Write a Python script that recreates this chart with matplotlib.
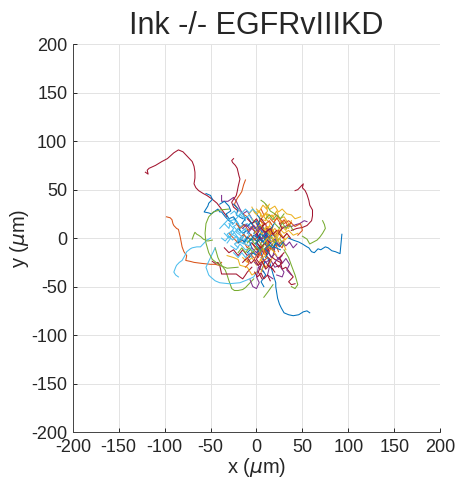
import matplotlib
matplotlib.use('Agg')
import matplotlib.pyplot as plt

# --- track data (x, y in micrometres), grouped by MATLAB default colour ---
blue_tracks = [
    [(93, 4), (91, -16), (86, -14), (82, -13), (78, -10), (75, -9), (70, -12), (67, -11), (63, -15),
     (60, -14), (57, -10), (55, -9), (50, -6), (46, -4), (40, -2), (35, 0)],
    [(58, -77), (55, -75), (51, -76), (46, -79), (40, -80), (35, -79), (30, -77), (27, -72), (25, -68),
     (23, -62), (22, -56), (21, -50), (21, -46), (18, -37), (15, -27), (12, -20)],
    [(-55, 46), (-50, 44), (-48, 40), (-52, 36), (-53, 33), (-57, 27), (-52, 26), (-49, 25), (-45, 28),
     (-42, 30), (-40, 27), (-38, 27), (-34, 22), (-30, 18), (-25, 15)],
    [(-20, 10), (-15, 5), (-10, 8), (-5, 2), (0, -3), (4, 2), (8, -5), (12, -2), (10, 5), (15, 8), (20, 3), (24, -4)],
    [(-10, -15), (-5, -10), (-8, -3), (-2, 0), (3, -8), (6, -18), (9, -25), (6, -32), (10, -38), (5, -45), (8, -50)],
    [(-25, 35), (-20, 30), (-22, 24), (-15, 20), (-10, 22), (-5, 15), (0, 18), (2, 10), (-3, 5), (5, 0)],
    [(-40, 35), (-35, 38), (-30, 33), (-28, 28), (-33, 25), (-30, 20), (-25, 22), (-20, 15), (-18, 8)],
    [(0, 25), (4, 20), (2, 14), (8, 10), (6, 3), (12, -1), (18, 4), (22, -2), (19, -9), (26, -12)],
    [(-15, 25), (-12, 20), (-16, 15), (-10, 12), (-6, 16), (-2, 10), (3, 13), (6, 6), (2, 0), (7, -4),
     (11, 2), (16, -3), (13, -9), (18, -12)],
    [(-8, -20), (-4, -15), (0, -18), (3, -11), (-1, -6), (4, -1), (9, -6), (13, 0), (10, 7), (16, 10), (20, 16)],
    [(-20, -5), (-17, -1), (-13, -4), (-10, 1), (-6, -2), (-3, 3), (1, 0), (4, 5), (8, 2), (11, 7), (14, 3)],
    [(10, -20), (13, -15), (9, -11), (14, -7), (18, -10), (21, -5), (25, -9), (29, -4)],
]
orange_tracks = [
    [(-98, 22), (-94, 21), (-92, 19), (-91, 15), (-90, 13), (-87, 10), (-85, 9), (-84, 5), (-83, 1),
     (-82, -4), (-81, -9), (-79, -14), (-76, -18), (-77, -23), (-72, -24), (-68, -25), (-60, -26),
     (-50, -27), (-45, -27), (-41, -28), (-38, -25)],
    [(-12, 60), (-14, 55), (-16, 48), (-18, 45), (-21, 41), (-24, 35), (-20, 30), (-15, 25), (-10, 22)],
    [(-5, 15), (0, 10), (5, 12), (10, 5), (15, 0), (12, -8), (18, -12), (22, -5), (28, -10), (30, -3)],
    [(-30, 5), (-25, 0), (-20, -5), (-15, -2), (-10, -10), (-5, -5), (0, -12), (5, -8), (10, -15)],
    [(20, 25), (25, 20), (30, 15), (35, 18), (42, 12), (48, 15), (50, 8), (45, 3)],
    [(-8, -20), (-3, -14), (2, -20), (6, -12), (10, -18), (14, -10), (20, -14)],
    [(-18, 0), (-14, 4), (-10, -1), (-6, 4), (-2, -2), (2, 3), (6, -3), (3, -9), (8, -13), (12, -7),
     (17, -11), (21, -6), (24, -14)],
    [(5, 30), (8, 24), (4, 18), (9, 14), (14, 18), (18, 12), (15, 6), (20, 2), (24, 8), (28, 2)],
    [(-22, 15), (-18, 10), (-13, 14), (-9, 8), (-5, 12), (-1, 6), (3, 9), (0, 2), (5, -2)],
    [(10, -30), (6, -25), (12, -20), (8, -14), (14, -8), (10, -2), (16, 4), (12, 10)],
    [(-12, -30), (-8, -26), (-11, -21), (-6, -17), (-2, -21), (2, -15), (6, -19), (9, -12), (13, -16), (16, -9)],
    [(15, 20), (19, 16), (22, 21), (26, 15), (30, 19), (34, 13), (38, 16)],
]
yellow_tracks = [
    [(0, 30), (5, 25), (3, 20), (10, 18), (12, 25), (18, 22), (22, 28), (25, 20), (30, 22), (35, 15), (32, 8), (28, 12)],
    [(-5, 20), (0, 15), (5, 18), (8, 10), (15, 12), (20, 5), (25, 10), (30, 5), (35, 8), (40, 3), (45, 5)],
    [(-15, -20), (-10, -25), (-5, -20), (0, -28), (5, -22), (10, -30), (15, -25), (18, -18)],
    [(5, -10), (10, -5), (15, -10), (20, -2), (25, 8), (30, 12), (35, 10), (38, 18)],
    [(-32, -18), (-25, -20), (-20, -22), (-18, -28), (-10, -30), (-5, -38), (0, -35)],
    [(10, 35), (12, 28), (8, 22), (15, 15), (12, 8), (18, 0), (22, -8), (28, -3), (32, -12)],
    [(15, 30), (20, 33), (24, 27), (28, 30), (33, 25), (38, 24), (42, 20), (48, 22)],
    [(-5, 32), (-2, 26), (3, 28), (6, 22), (10, 26), (13, 20), (17, 24), (20, 18), (24, 22), (27, 16), (31, 18)],
    [(0, 10), (4, 14), (8, 8), (12, 12), (16, 6), (20, 10), (24, 4), (22, -2), (27, -6), (31, 0)],
    [(5, -35), (8, -28), (4, -22), (10, -18), (7, -12), (13, -8), (18, -13), (22, -18)],
    [(-2, 5), (2, 9), (6, 4), (10, 9), (14, 4), (18, 8), (21, 2), (25, 6), (29, 1), (33, 4)],
    [(8, -5), (12, 0), (16, -4), (20, 1), (24, -3), (27, 3), (31, -2), (35, 2)],
    [(-8, 25), (-4, 30), (0, 24), (4, 29), (7, 34), (11, 30), (14, 35)],
]
purple_tracks = [
    [(-38, 44), (-38, 38), (-31, 38), (-28, 40), (-25, 42), (-22, 38), (-18, 30), (-15, 25), (-10, 28), (-5, 20)],
    [(5, -20), (10, -25), (15, -22), (20, -30), (25, -28), (30, -35), (28, -40), (22, -38)],
    [(-7, -43), (-4, -50), (0, -52), (3, -46), (0, -40), (2, -30), (8, -35)],
    [(28, 10), (33, 13), (38, 12), (43, 14), (47, 15), (52, 18), (55, 17)],
    [(-10, 5), (-5, 10), (0, 5), (5, -2), (10, 3), (15, -5), (20, -10), (18, -18)],
    [(-2, -25), (4, -30), (8, -22), (14, -30), (12, -38), (18, -42)],
    [(15, -5), (20, -1), (24, -7), (28, -3), (32, -8), (36, -4), (40, -10), (44, -6)],
    [(-5, -10), (0, -15), (4, -10), (8, -16), (12, -12), (16, -20), (20, -16), (24, -22), (28, -18)],
    [(0, 15), (4, 8), (-1, 3), (5, -1), (9, 5), (13, 0)],
    [(20, -25), (24, -20), (28, -26), (32, -21), (36, -27), (33, -33), (38, -38)],
    [(-15, 10), (-11, 14), (-7, 9), (-3, 13), (1, 7), (5, 11), (9, 5), (13, 9)],
]
green_tracks = [
    [(-70, -1), (-68, 4), (-67, 6), (-65, 4), (-63, 3), (-60, 1), (-58, -1), (-53, -3), (-48, -2)],
    [(-45, -10), (-42, -20), (-38, -28), (-34, -33), (-32, -38), (-30, -44), (-28, -49), (-27, -52),
     (-24, -54), (-20, -54), (-15, -53), (-12, -51), (-9, -48), (-7, -46), (-3, -42)],
    [(72, 18), (74, 14), (75, 10), (72, 5), (69, 1), (66, -2), (62, -4), (58, -6), (55, -1), (50, 2)],
    [(30, -12), (35, -20), (38, -28), (42, -38), (45, -48), (42, -52), (38, -50)],
    [(8, -61), (12, -56), (15, -52), (18, -48)],
    [(-30, 30), (-40, 29), (-47, 27), (-52, 22), (-55, 15), (-56, 5), (-55, -5), (-52, -15), (-48, -22),
     (-40, -28), (-32, -31), (-20, -30)],
    [(5, 39), (8, 37), (12, 33), (15, 28), (20, 25)],
    [(0, 0), (5, 5), (10, -3), (15, 2), (20, -5), (25, 0), (30, -8)],
    [(-10, -5), (-6, 0), (-2, -6), (2, -2), (6, -8), (10, -4), (14, -10), (18, -6)],
    [(20, 15), (25, 10), (28, 16), (32, 10), (36, 14), (40, 8)],
    [(-20, -15), (-16, -10), (-12, -15), (-8, -10), (-4, -15), (0, -9), (4, -14), (8, -8)],
    [(10, 20), (14, 24), (18, 19), (22, 24), (26, 20), (30, 25)],
]
lightblue_tracks = [
    [(-85, -40), (-88, -38), (-90, -35), (-88, -30), (-87, -28), (-84, -25), (-81, -23), (-78, -18),
     (-76, -14), (-72, -11), (-70, -10), (-65, -9), (-61, -9), (-57, -5), (-54, -2), (-50, 0)],
    [(-45, -10), (-50, -20), (-55, -30), (-52, -38), (-50, -40), (-45, -44), (-40, -46), (-30, -47),
     (-18, -46), (-10, -43), (-3, -40), (0, -35)],
    [(-30, 15), (-25, 10), (-28, 5), (-20, 0), (-22, -5), (-15, 0), (-12, 8), (-18, 12), (-10, 15), (-5, 10)],
    [(-35, 5), (-30, 0), (-25, 5), (-20, 10), (-15, 5), (-10, 0), (-15, -5), (-8, -8), (-3, -2)],
    [(-25, 20), (-20, 15), (-25, 12), (-18, 5), (-12, 10), (-8, 3), (-14, -2), (-5, -5)],
    [(-40, 10), (-35, 15), (-30, 10), (-28, 18), (-22, 20), (-18, 25), (-12, 18)],
    [(-28, -8), (-22, -12), (-18, -6), (-12, -12), (-6, -10), (-2, -16)],
    [(-35, 15), (-30, 20), (-26, 14), (-22, 18), (-18, 12), (-22, 6), (-16, 2), (-20, -3), (-14, -6), (-10, -2)],
    [(-28, 25), (-24, 28), (-20, 22), (-16, 26), (-12, 20), (-8, 24), (-4, 18)],
    [(-32, -5), (-28, 0), (-32, 4), (-26, 8), (-22, 3), (-18, -2), (-24, -6), (-20, -10)],
    [(-25, -15), (-20, -20), (-16, -15), (-12, -20), (-8, -15), (-5, -20)],
    [(-38, 0), (-34, -3), (-30, 2), (-26, -2), (-22, 2), (-18, -3), (-14, 2)],
    [(-20, 30), (-16, 26), (-12, 30), (-8, 26), (-4, 30), (0, 26)],
]
darkred_tracks = [
    [(-121, 68), (-118, 66), (-119, 70), (-117, 72), (-110, 75), (-103, 79), (-97, 82), (-90, 88), (-85, 91),
     (-80, 89), (-78, 87), (-74, 83), (-70, 79), (-68, 74), (-67, 68), (-67, 62), (-68, 56), (-66, 52),
     (-63, 49), (-58, 46), (-54, 44), (-48, 40), (-43, 36), (-39, 31), (-36, 27), (-32, 22)],
    [(-25, 82), (-27, 80), (-26, 78), (-23, 75), (-21, 72), (-20, 68), (-19, 64), (-18, 61), (-19, 57),
     (-20, 53), (-21, 48), (-22, 44), (-25, 40), (-27, 37), (-25, 32), (-20, 28)],
    [(42, 49), (45, 50), (51, 56), (50, 52), (53, 49), (55, 45), (57, 39), (58, 34), (61, 29), (61, 23),
     (60, 18), (57, 15), (55, 13), (50, 11), (44, 10), (38, 8)],
    [(-48, -24), (-45, -26), (-42, -25), (-40, -28), (-38, -37), (-30, -37), (-22, -37), (-18, -40),
     (-15, -42), (-12, -38), (-10, -35), (-5, -30)],
    [(10, -10), (15, -18), (20, -22), (26, -25), (28, -32), (32, -30), (36, -35), (40, -40), (35, -45),
     (38, -48), (42, -47)],
    [(-5, -5), (0, -10), (3, -15), (0, -22), (5, -28), (2, -35), (6, -42)],
    [(-10, 20), (-5, 15), (0, 20), (5, 12), (10, 15), (12, 5), (8, 0), (15, -5)],
    [(-35, -10), (-30, -15), (-25, -12), (-20, -18), (-15, -12), (-10, -18), (-5, -15)],
    [(0, 5), (4, 0), (0, -5), (5, -10), (9, -5), (13, -12), (10, -18), (15, -22), (12, -28), (18, -32)],
    [(-15, -25), (-10, -20), (-6, -26), (-2, -22), (2, -28), (6, -24), (10, -32), (14, -28)],
    [(5, 20), (9, 15), (5, 10), (10, 6), (15, 10), (18, 4), (22, 8)],
    [(20, -35), (16, -30), (20, -25), (24, -30), (28, -25), (25, -20), (30, -15)],
    [(-2, -35), (1, -40), (5, -36), (8, -42), (12, -38), (15, -44)],
    [(25, 15), (28, 10), (24, 5), (29, 0), (33, 5), (37, 0)],
]

track_groups = [
    (blue_tracks, '#0072BD'),
    (orange_tracks, '#D95319'),
    (yellow_tracks, '#EDB120'),
    (purple_tracks, '#7E2F8E'),
    (green_tracks, '#77AC30'),
    (lightblue_tracks, '#4DBEEE'),
    (darkred_tracks, '#A2142F'),
]

ticks = list(range(-200, 201, 50))

plt.rcParams['font.family'] = ['Liberation Sans', 'DejaVu Sans']
plt.rcParams['axes.unicode_minus'] = False

fig = plt.figure(figsize=(4.58, 4.91), dpi=100)
ax = fig.add_axes([0.159, 0.120, 0.802, 0.790])

# draw tracks interleaved by colour, like MATLAB's colour cycling
n_max = max(len(t) for t, _ in track_groups)
for i in range(n_max):
    for tracks, col in track_groups:
        if i < len(tracks):
            tr = tracks[i]
            ax.plot([p[0] for p in tr], [p[1] for p in tr], color=col, linewidth=0.75)

ax.set_xlim(-200, 200)
ax.set_ylim(-200, 200)
ax.set_xticks(ticks)
ax.set_yticks(ticks)
ax.grid(True, color='#e3e3e3', linewidth=0.7)
ax.set_axisbelow(True)
for s in ['top', 'right']:
    ax.spines[s].set_visible(False)
for s in ['left', 'bottom']:
    ax.spines[s].set_color('#444444')
    ax.spines[s].set_linewidth(0.7)
ax.tick_params(direction='in', length=3, width=0.7, colors='#262626', labelsize=13)
ax.tick_params(axis='x', pad=5)
ax.tick_params(axis='y', pad=4)

ax.set_title('Ink -/- EGFRvIIIKD', fontsize=22, color='#262626', pad=7)
ax.set_xlabel('x ($\\mu$m)', fontsize=14.5, color='#262626', labelpad=0)
ax.set_ylabel('y ($\\mu$m)', fontsize=14.5, color='#262626', labelpad=0)

fig.savefig('out.png', dpi=100)
